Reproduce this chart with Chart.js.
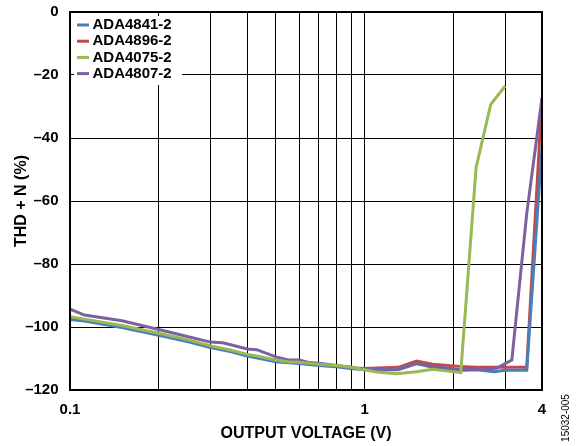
<!DOCTYPE html>
<html>
<head>
<meta charset="utf-8">
<script src="https://cdn.jsdelivr.net/npm/chart.js@4"></script>
<style>
  body { margin: 0; background: #fff; }
  canvas { display: block; }
</style>
</head>
<body>
<canvas id="thd" width="577" height="446"></canvas>
<script>
// output voltage (V) sample points and THD + N readings
const seriesNames = ['ADA4841-2', 'ADA4896-2', 'ADA4075-2', 'ADA4807-2'];
const seriesColors = ['#4a7ebb', '#be4b48', '#98b954', '#7d60a0'];

const voltsBlueRed = [0.1, 0.112, 0.15, 0.2, 0.25, 0.3, 0.35, 0.4, 0.5, 0.6, 0.7, 0.8, 0.9, 1.0, 1.1, 1.3, 1.5, 1.7, 2.1, 2.4, 2.75, 3.0, 3.55, 4.0];
const thdBlue = [-97.6, -98.1, -100.2, -102.6, -104.6, -106.5, -107.8, -109.2, -111.0, -111.6, -112.2, -112.6, -113.2, -113.6, -113.4, -113.3, -111.6, -112.8, -113.8, -113.6, -114.2, -113.7, -113.7, -42.7];
const thdRed = [-97.3, -97.8, -99.9, -102.3, -104.3, -106.2, -107.5, -108.9, -110.7, -111.4, -112.0, -112.4, -113.0, -113.2, -113.0, -112.8, -110.8, -111.8, -112.5, -112.8, -112.8, -112.8, -112.8, -27.3];

const voltsGreen = [0.1, 0.112, 0.15, 0.2, 0.25, 0.3, 0.35, 0.4, 0.43, 0.5, 0.55, 0.6, 0.7, 0.8, 0.9, 1.0, 1.1, 1.28, 1.5, 1.7, 2.12, 2.39, 2.68, 3.0];
const thdGreen = [-96.7, -97.5, -99.5, -102, -104, -106, -107.3, -108.7, -109.2, -110.5, -111, -111.2, -111.8, -112.2, -112.8, -113.6, -114.3, -114.8, -114.2, -113.4, -114.5, -49.3, -29.3, -23.5];

const voltsPurple = [0.1, 0.112, 0.15, 0.2, 0.25, 0.3, 0.33, 0.4, 0.43, 0.5, 0.55, 0.6, 0.65, 0.7, 0.8, 0.9, 1.0, 1.1, 1.3, 1.5, 1.7, 2.1, 2.5, 2.8, 3.16, 3.55, 4.0];
const thdPurple = [-94.3, -96.2, -98, -100.8, -103, -104.8, -105, -107, -107.2, -109.5, -110.5, -110.5, -111.3, -111.5, -112.2, -112.8, -113.5, -113.6, -113.6, -111.6, -112.5, -113.5, -113.5, -113.1, -110.5, -64, -27.3];

const xGridValues = [0.1, 0.2, 0.3, 0.4, 0.5, 0.6, 0.7, 0.8, 0.9, 1, 2, 3, 4];
const xLabeled = [0.1, 1, 4];
const yTicks = [0, -20, -40, -60, -80, -100, -120];

const pairs = (xs, ys) => xs.map((x, i) => ({ x: x, y: ys[i] }));
const seriesData = [
    pairs(voltsBlueRed, thdBlue),
    pairs(voltsBlueRed, thdRed),
    pairs(voltsGreen, thdGreen),
    pairs(voltsPurple, thdPurple)
];
// red at the bottom, green on top
const drawOrder = [3, 4, 1, 2];

const tickFont = { family: 'Liberation Sans, Arial, sans-serif', size: 15, weight: 'bold' };
const titleFont = { family: 'Liberation Sans, Arial, sans-serif', size: 16, weight: 'bold' };

const frameAndLegend = {
    id: 'frameAndLegend',
    afterDatasetsDraw(chart) {
        const { ctx, chartArea: a } = chart;
        ctx.save();
        // legend box in the top-left corner of the plot
        ctx.fillStyle = '#fff';
        ctx.fillRect(a.left + 4, a.top + 4, 108, 69);
        ctx.font = 'bold 15px Liberation Sans, Arial, sans-serif';
        ctx.textBaseline = 'middle';
        seriesNames.forEach((name, i) => {
            const y = a.top + 13 + i * 16.2;
            ctx.strokeStyle = seriesColors[i];
            ctx.lineWidth = 3;
            ctx.beginPath();
            ctx.moveTo(a.left + 7, y);
            ctx.lineTo(a.left + 19, y);
            ctx.stroke();
            ctx.fillStyle = '#000';
            ctx.fillText(name, a.left + 22.5, y);
        });
        // plot frame
        ctx.strokeStyle = '#000';
        ctx.lineWidth = 2;
        ctx.strokeRect(a.left, a.top, a.right - a.left, a.bottom - a.top);
        // figure id
        ctx.translate(566, 418);
        ctx.rotate(-Math.PI / 2);
        ctx.font = '10px Liberation Sans, Arial, sans-serif';
        ctx.textAlign = 'center';
        ctx.fillText('15032-005', 0, 0);
        ctx.restore();
    }
};

new Chart(document.getElementById('thd').getContext('2d'), {
    type: 'line',
    data: {
        datasets: seriesNames.map((name, i) => ({
            label: name,
            data: seriesData[i],
            borderColor: seriesColors[i],
            backgroundColor: seriesColors[i],
            borderWidth: 3,
            pointRadius: 0,
            tension: 0,
            order: drawOrder[i]
        }))
    },
    options: {
        responsive: false,
        animation: false,
        layout: { padding: { top: 12, right: 35, left: 0, bottom: 0 } },
        plugins: {
            legend: { display: false },
            tooltip: { enabled: false }
        },
        scales: {
            x: {
                type: 'logarithmic',
                min: 0.1,
                max: 4,
                afterBuildTicks: s => { s.ticks = xGridValues.map(v => ({ value: v })); },
                afterFit: s => { s.height = 56; s.paddingLeft = 0; s.paddingRight = 0; },
                grid: { color: '#000', lineWidth: 1, drawTicks: false },
                border: { display: false },
                ticks: {
                    autoSkip: false,
                    maxRotation: 0,
                    padding: 11,
                    color: '#000',
                    font: tickFont,
                    callback: v => xLabeled.includes(v) ? String(v) : ''
                },
                title: {
                    display: true,
                    text: 'OUTPUT VOLTAGE (V)',
                    color: '#000',
                    font: titleFont,
                    padding: { top: 0, bottom: 3.1 }
                }
            },
            y: {
                min: -120,
                max: 0,
                afterBuildTicks: s => { s.ticks = yTicks.map(v => ({ value: v })); },
                afterFit: s => { s.width = 70; s.paddingTop = 0; s.paddingBottom = 0; },
                grid: { color: '#000', lineWidth: 1, drawTicks: false },
                border: { display: false },
                ticks: {
                    padding: 11.5,
                    color: '#000',
                    font: tickFont,
                    callback: v => v < 0 ? '\u2013' + Math.abs(v) : String(v)
                },
                title: {
                    display: true,
                    text: 'THD + N (%)',
                    color: '#000',
                    font: titleFont,
                    padding: { top: 11.6, bottom: 0 }
                }
            }
        }
    },
    plugins: [frameAndLegend]
});
</script>
</body>
</html>
